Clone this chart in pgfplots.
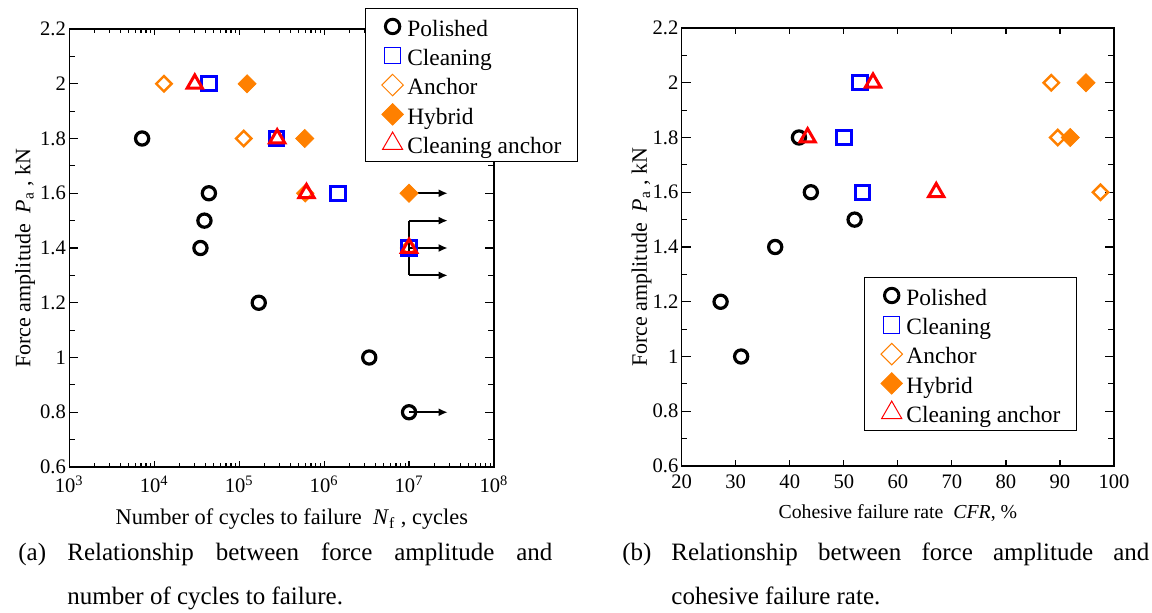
\documentclass[border=0pt]{standalone}
\usepackage{fontspec}
\setmainfont{Liberation Serif}
\usepackage{pgfplots}
\pgfplotsset{compat=1.18}
\usetikzlibrary{arrows.meta}

\definecolor{pblue}{RGB}{0,0,255}
\definecolor{pred}{RGB}{255,0,0}
\definecolor{porange}{RGB}{255,128,0}

\tikzset{runout/.style={line width=0.9pt, black, -{Latex[length=4.5pt,width=4pt]}}}

\pgfplotsset{
  panel/.style={
    scale only axis,
    height=219pt,
    ymin=0.6, ymax=2.2,
    ytick={0.6,0.8,1,1.2,1.4,1.6,1.8,2,2.2},
    minor ytick={0.7,0.9,1.1,1.3,1.5,1.7,1.9,2.1},
    /pgf/number format/assume math mode=true,
    tick label style={font=\fontsize{10.3}{12}\selectfont},
    yticklabel style={inner xsep=1.5pt},
    xticklabel style={yshift=-1pt},
    ylabel style={font=\fontsize{11}{13}\selectfont},
    axis line style={line width=0.7pt},
    tick style={black, line width=0.6pt},
    ytick style={/pgfplots/major tick length=4.5pt, /pgfplots/minor tick length=2.8pt},
    xtick style={/pgfplots/major tick length=3pt, /pgfplots/minor tick length=1.8pt},
    legend cell align=left,
    legend style={draw=black, line width=0.7pt, fill=white,
      font=\fontsize{11.7}{13}\selectfont,
      inner xsep=6pt, inner ysep=0.5pt, row sep=-2.15pt,
      /tikz/every even column/.append style={text height=11.3pt, text depth=3.3pt, inner sep=0pt},
      /tikz/every odd column/.append style={column sep=0pt, inner sep=0pt}},
    legend image code/.code={\path[draw=none, fill=none] (-5pt,-4pt) rectangle (5pt,4pt); \draw[##1] plot coordinates {(2.5pt,0pt)};},
  },
  sPolished/.style={only marks, mark=o, mark size=3.3pt, black, line width=1.6pt, forget plot},
  sCleaning/.style={only marks, mark=square, mark size=3.6pt, pblue, line width=1.5pt, forget plot},
  sAnchor/.style={only marks, mark=square, mark options={rotate=45}, mark size=2.7pt, porange, line width=1.2pt, forget plot},
  sHybrid/.style={only marks, mark=square*, mark options={rotate=45}, mark size=3.2pt, porange, line width=0.4pt, forget plot},
  sCanchor/.style={only marks, mark=triangle, mark size=4.4pt, pred, line width=1.5pt, forget plot},
}
\newcommand{\legendset}{%
  \addlegendimage{only marks, mark=o, mark size=3.6pt, black, line width=1.5pt}
  \addlegendentry{Polished}
  \addlegendimage{only marks, mark=square, mark size=4.1pt, pblue, line width=0.5pt}
  \addlegendentry{Cleaning}
  \addlegendimage{only marks, mark=square, mark options={rotate=45}, mark size=3.8pt, porange, line width=0.5pt}
  \addlegendentry{Anchor}
  \addlegendimage{only marks, mark=square*, mark options={rotate=45}, mark size=3.8pt, porange, line width=0.4pt}
  \addlegendentry{Hybrid}
  \addlegendimage{only marks, mark=triangle, mark size=5.8pt, pred, line width=0.5pt}
  \addlegendentry{Cleaning anchor}
}

\begin{document}
\begin{tikzpicture}
\path[use as bounding box] (0,0) rectangle (576pt,306pt);

% (a) force amplitude vs. cycles to failure
\begin{axis}[panel,
  at={(34.65pt,72.5pt)}, anchor=south west,
  width=212.35pt,
  xmode=log, xmin=1e3, xmax=1e8,
  xtick={1e3,1e4,1e5,1e6,1e7,1e8},
  xticklabels={10\textsuperscript{3},10\textsuperscript{4},10\textsuperscript{5},10\textsuperscript{6},10\textsuperscript{7},10\textsuperscript{8}},
  minor xtick={2e3,3e3,4e3,5e3,6e3,7e3,8e3,9e3,
    2e4,3e4,4e4,5e4,6e4,7e4,8e4,9e4,
    2e5,3e5,4e5,5e5,6e5,7e5,8e5,9e5,
    2e6,3e6,4e6,5e6,6e6,7e6,8e6,9e6,
    2e7,3e7,4e7,5e7,6e7,7e7,8e7,9e7},
  xlabel={Number of cycles to failure~~\textit{N}\textsubscript{f} , cycles},
  xlabel style={font=\fontsize{11.2}{13}\selectfont},
  every axis x label/.append style={at={(ticklabel cs:0.524,1pt)}},
  ylabel={Force amplitude~~\textit{P}\textsubscript{a} , kN},
  every axis y label/.append style={at={(ticklabel cs:0.477,-2.5pt)}},
  legend style={at={(0.696,1.048)}, anchor=north west},
]
% run-out arrows
\draw[runout] (axis cs:1e7,1.6) -- (axis cs:2.85e7,1.6);
\draw[line width=0.9pt] (axis cs:1e7,1.5) -- (axis cs:1e7,1.3);
\draw[runout] (axis cs:1e7,1.5) -- (axis cs:2.85e7,1.5);
\draw[runout] (axis cs:1e7,1.4) -- (axis cs:2.85e7,1.4);
\draw[runout] (axis cs:1e7,1.3) -- (axis cs:2.85e7,1.3);
\draw[runout] (axis cs:1e7,0.8) -- (axis cs:2.85e7,0.8);

\addplot[sPolished] coordinates {(7.2e3,1.8) (4.4e4,1.6) (3.9e4,1.5) (3.5e4,1.4) (1.7e5,1.2) (3.4e6,1.0) (1e7,0.8)};
\addplot[sAnchor] coordinates {(1.3e4,2.0) (1.13e5,1.8) (6.0e5,1.6) (1e7,1.4)};
\addplot[sHybrid] coordinates {(1.24e5,2.0) (5.9e5,1.8) (1e7,1.6)};
\addplot[sCleaning] coordinates {(4.4e4,2.0) (2.75e5,1.8) (1.46e6,1.6) (1e7,1.4)};
\addplot[sCanchor] coordinates {(3.0e4,2.0) (2.8e5,1.8) (6.2e5,1.6) (1e7,1.4)};
\legendset
\end{axis}

% (b) force amplitude vs. cohesive failure rate
\begin{axis}[panel,
  at={(340.85pt,73pt)}, anchor=south west,
  width=216.15pt,
  xmin=20, xmax=100,
  xtick={20,30,40,50,60,70,80,90,100},
  xlabel={Cohesive failure rate~~\textit{CFR}, \%},
  xlabel style={font=\fontsize{9.9}{12}\selectfont},
  every axis x label/.append style={at={(ticklabel cs:0.5,1pt)}},
  ylabel={Force amplitude~~\textit{P}\textsubscript{a} , kN},
  every axis y label/.append style={at={(ticklabel cs:0.477,-4.5pt)}},
  legend style={at={(0.4217,0.4315)}, anchor=north west},
]
\addplot[sPolished] coordinates {(41.7,1.8) (43.9,1.6) (52.0,1.5) (37.3,1.4) (27.2,1.2) (31.0,1.0)};
\addplot[sAnchor] coordinates {(88.4,2.0) (89.6,1.8) (97.5,1.6)};
\addplot[sHybrid] coordinates {(94.8,2.0) (91.9,1.8)};
\addplot[sCleaning] coordinates {(53.0,2.0) (50.0,1.8) (53.5,1.6)};
\addplot[sCanchor] coordinates {(55.4,2.0) (43.3,1.8) (67.1,1.6)};
\legendset
\end{axis}

% captions
\node[anchor=base west, inner sep=0pt, font=\fontsize{12.5}{15}\selectfont] at (9pt,26pt)
  {\makebox[24.5pt][l]{(a)}\makebox[242.5pt][s]{Relationship between force amplitude and}};
\node[anchor=base west, inner sep=0pt, font=\fontsize{12.5}{15}\selectfont] at (33.5pt,4pt)
  {number of cycles to failure.};
\node[anchor=base west, inner sep=0pt, font=\fontsize{12.5}{15}\selectfont] at (311pt,26pt)
  {\makebox[24.5pt][l]{(b)}\makebox[239pt][s]{Relationship between force amplitude and}};
\node[anchor=base west, inner sep=0pt, font=\fontsize{12.5}{15}\selectfont] at (335.5pt,4pt)
  {cohesive failure rate.};
\end{tikzpicture}
\end{document}
